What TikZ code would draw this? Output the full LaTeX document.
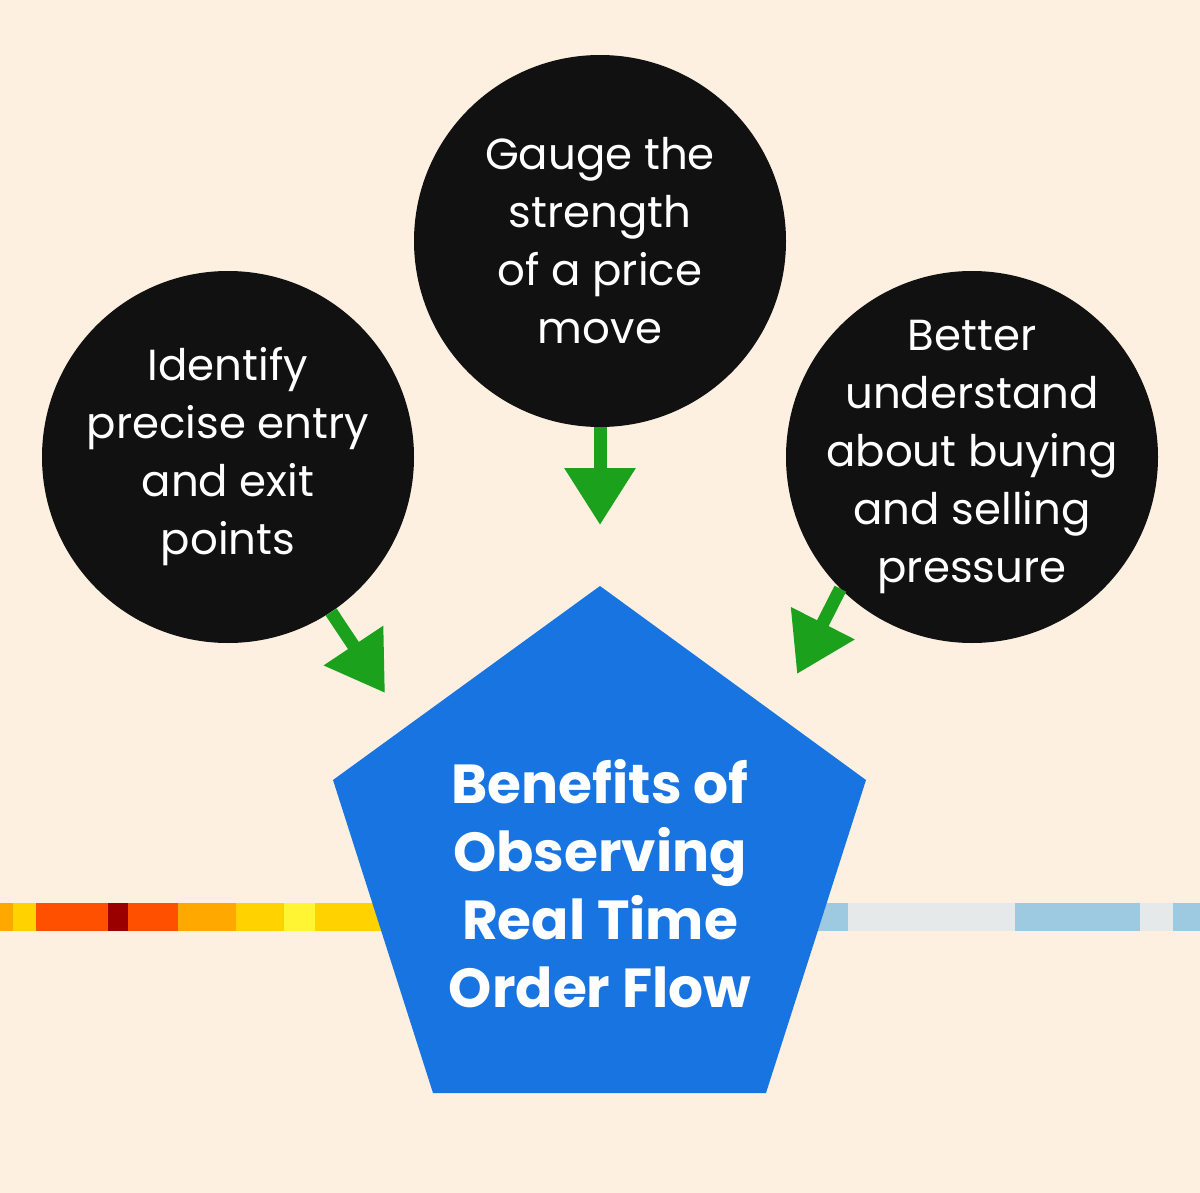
\documentclass[tikz,border=0pt]{standalone}
\usepackage{fontspec}
\setmainfont{Poppins}[Ligatures=NoCommon]
\usetikzlibrary{arrows.meta}
\definecolor{bgc}{HTML}{FDF0E1}
\definecolor{blk}{HTML}{111111}
\definecolor{bluec}{HTML}{1874E0}
\definecolor{greenc}{HTML}{1BA11B}
\definecolor{sA}{HTML}{FFA800}
\definecolor{sB}{HTML}{FFD200}
\definecolor{sC}{HTML}{FF5000}
\definecolor{sD}{HTML}{9A0000}
\definecolor{sE}{HTML}{FFF533}
\definecolor{sF}{HTML}{9ECAE1}
\definecolor{sG}{HTML}{E5E9EA}
\tikzset{
  bubble/.style={circle, fill=blk, minimum size=372pt, inner sep=0pt},
  btext/.style={text=white, align=center, inner sep=0pt, font=\fontsize{43.5}{58}\selectfont},
  garrow/.style={draw=greenc, line width=13pt,
    -{Triangle[width=68pt,length=57pt,fill=greenc]}}
}
\begin{document}
\begin{tikzpicture}[x=1pt,y=-1pt]
\fill[bgc] (0,0) rectangle (1200,1193);
\useasboundingbox (0,0) rectangle (1200,1193);
% strip
\fill[sA] (0,903) rectangle (13,931);
\fill[sB] (13,903) rectangle (36,931);
\fill[sC] (36,903) rectangle (108,931);
\fill[sD] (108,903) rectangle (128,931);
\fill[sC] (128,903) rectangle (178,931);
\fill[sA] (178,903) rectangle (236,931);
\fill[sB] (236,903) rectangle (284,931);
\fill[sE] (284,903) rectangle (315,931);
\fill[sB] (315,903) rectangle (400,931);
\fill[sF] (800,903) rectangle (848,931);
\fill[sG] (848,903) rectangle (1015,931);
\fill[sF] (1015,903) rectangle (1140,931);
\fill[sG] (1140,903) rectangle (1173,931);
\fill[sF] (1173,903) rectangle (1200,931);
% pentagon
\coordinate (pT) at (600,586);
\coordinate (pL) at (333,780);
\coordinate (pR) at (866,780);
\coordinate (pBL) at (433,1093);
\coordinate (pBR) at (766,1093);
\fill[bluec] (pT) -- (pR) -- (pBR) -- (pBL) -- (pL) -- cycle;
\node[text=white, align=center, font=\fontseries{sb}\selectfont\fontsize{55}{68}\selectfont] (title) at (600,884)
  {Benefits of\\Observing\\Real Time\\Order Flow};
% bubbles
\node[bubble] (c1) at (228,457) {};
\node[bubble] (c2) at (600,241) {};
\node[bubble] (c3) at (972,457) {};
\node[btext] (c1t) at (c1) {Identify\\precise entry\\and exit\\points};
\node[btext] (c2t) at (c2) {Gauge the\\strength\\of a price\\move};
\node[btext] (c3t) at (c3) {Better\\understand\\about buying\\and selling\\pressure};
% arrow tips
\coordinate (t1) at (385,693);
\coordinate (t2) at (600,525);
\coordinate (t3) at (797,674);
\draw[garrow] (c1) -- (t1);
\draw[garrow] (c2.south) -- (t2);
\draw[garrow] (c3.225) -- (t3);
\end{tikzpicture}
\end{document}
